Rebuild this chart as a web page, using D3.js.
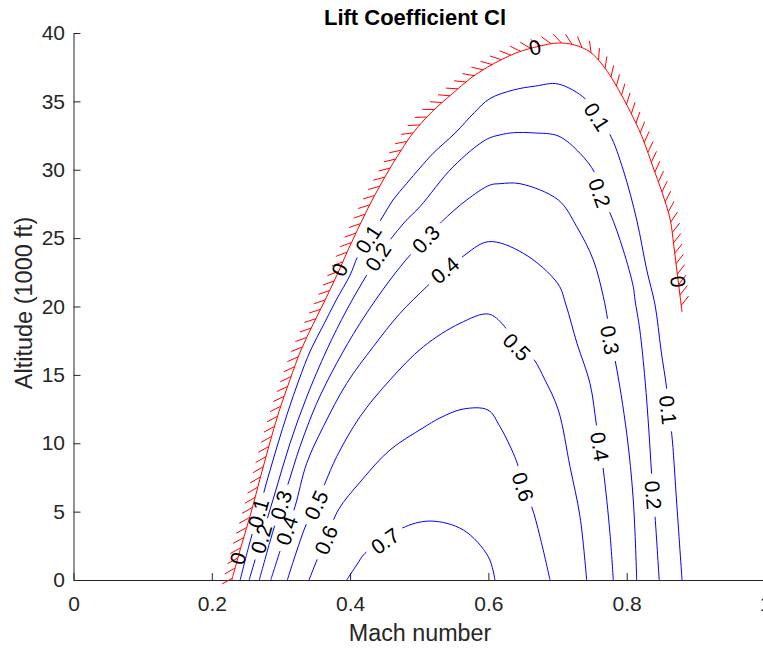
<!DOCTYPE html>
<html><head><meta charset="utf-8">
<script src="https://cdn.jsdelivr.net/npm/d3@7"></script>
<style>body{margin:0;background:#fff} svg{display:block}</style>
</head><body>
<svg id="c" width="763" height="648"></svg>
<script>
// ---------- data ----------
const machTicks = [0, 0.2, 0.4, 0.6, 0.8, 1];
const machTickLabels = ["0", "0.2", "0.4", "0.6", "0.8", "1"];
const altTicks = [0, 5, 10, 15, 20, 25, 30, 35, 40];
const altTickLabels = ["0", "5", "10", "15", "20", "25", "30", "35", "40"];
const levels = [0, 0.1, 0.2, 0.3, 0.4, 0.5, 0.6, 0.7];
const levelLabels = ["0", "0.1", "0.2", "0.3", "0.4", "0.5", "0.6", "0.7"];

// contour lines: [Mach, altitude (1000 ft)]
const cl0 = [[0.229,0],[0.243,2.56],[0.257,4.97],[0.270,7.46],[0.283,9.87],[0.297,12.29],[0.313,14.63],[0.329,16.82],[0.346,18.65],[0.364,20.48],[0.381,22.30],[0.397,24.13],[0.414,25.96],[0.432,27.79],[0.452,29.62],[0.474,31.44],[0.491,32.69],[0.518,34.22],[0.549,35.61],[0.573,36.64],[0.599,37.51],[0.640,38.54],[0.675,39.05],[0.701,39.27],[0.725,39.12],[0.747,38.61],[0.764,37.73],[0.780,36.56],[0.809,33.86],[0.824,32.18],[0.838,30.20],[0.851,28.37],[0.863,26.33],[0.868,24.50],[0.873,22.45],[0.877,20.84],[0.880,19.60]];
const cl1 = [[0.241,0],[0.254,2.56],[0.2675,4.97],[0.281,7.46],[0.295,9.87],[0.310,12.29],[0.326,14.63],[0.343,16.82],[0.3615,18.65],[0.380,20.48],[0.400,22.30],[0.412,23.77],[0.429,25.16],[0.446,26.47],[0.462,27.79],[0.482,29.01],[0.501,30.13],[0.520,31.20],[0.552,32.69],[0.580,34.20],[0.602,35.20],[0.636,35.83],[0.668,36.12],[0.701,36.27],[0.742,35.10],[0.757,33.88],[0.776,32.54],[0.795,29.98],[0.8145,26.33],[0.829,22.67],[0.841,20.11],[0.8496,16.82],[0.858,13.90],[0.860,12.43],[0.865,10.73],[0.872,5.85],[0.880,0]];
const cl2 = [[0.254,0],[0.271,2.93],[0.2914,6.36],[0.3131,10.00],[0.3372,13.38],[0.3662,16.82],[0.395,19.74],[0.424,22.30],[0.440,23.62],[0.4577,24.86],[0.479,26.18],[0.501,27.30],[0.549,30.22],[0.5975,32.23],[0.617,32.55],[0.636,32.71],[0.667,32.69],[0.701,32.47],[0.7325,31.20],[0.754,29.74],[0.761,28.28],[0.776,26.82],[0.795,24.13],[0.8095,21.45],[0.812,20.48],[0.819,18.28],[0.8265,14.63],[0.832,10.97],[0.836,7.80],[0.841,4.63],[0.847,0]];
const cl3 = [[0.2687,0],[0.284,2.78],[0.300,5.48],[0.3106,7.07],[0.3275,9.75],[0.3517,12.92],[0.3806,15.85],[0.4143,18.77],[0.4577,21.94],[0.4891,23.89],[0.511,25.01],[0.5325,26.20],[0.5686,27.79],[0.6023,28.88],[0.6168,28.98],[0.6457,28.98],[0.7011,27.79],[0.7277,25.84],[0.7517,23.40],[0.7662,20.72],[0.7725,19.01],[0.7758,17.55],[0.7831,16.09],[0.800,10.73],[0.8095,5.85],[0.8145,0]];
const cl4 = [[0.2852,0],[0.3087,3.66],[0.3203,5.36],[0.3372,8.53],[0.3612,11.21],[0.3951,14.38],[0.4335,17.06],[0.4722,19.50],[0.5108,21.45],[0.5372,22.67],[0.5614,23.60],[0.5999,24.74],[0.6505,23.89],[0.7007,21.65],[0.7122,20.11],[0.7281,17.31],[0.7469,14.38],[0.7566,11.21],[0.7662,8.04],[0.7758,3.41],[0.7806,0]];
const cl5 = [[0.3092,0],[0.3218,1.97],[0.3372,4.15],[0.3507,5.48],[0.3637,7.07],[0.3806,9.02],[0.4143,11.94],[0.4577,14.63],[0.5059,17.06],[0.5589,18.77],[0.5999,19.45],[0.6215,18.65],[0.6414,17.04],[0.6626,16.33],[0.6818,14.63],[0.7011,12.43],[0.718,8.29],[0.7325,4.63],[0.7421,0]];
const cl6 = [[0.3406,0],[0.354,1.70],[0.3651,2.93],[0.3829,5.12],[0.4158,7.24],[0.4577,9.51],[0.5054,11.12],[0.530,11.85],[0.5633,12.50],[0.5994,12.43],[0.6168,11.21],[0.636,9.27],[0.6432,8.29],[0.650,6.80],[0.6626,5.36],[0.6746,3.17],[0.6891,0]];
const cl7 = [[0.3951,0],[0.4095,1.10],[0.4215,1.95],[0.4505,2.85],[0.4746,3.78],[0.5155,4.31],[0.5637,3.66],[0.5999,1.70],[0.6095,0]];

// label anchor points on each contour: [Mach, altitude]
const lab0 = [[0.2364,1.61],[0.3796,22.82],[0.6674,38.98],[0.8713,21.79]];
const lab1 = [[0.2654,4.90],[0.4288,24.86],[0.7571,33.86],[0.8601,12.43]];
const lab2 = [[0.2683,3.07],[0.4432,23.55],[0.7614,28.30],[0.8366,6.22]];
const lab3 = [[0.3001,5.48],[0.5112,24.86],[0.7758,17.55]];
const lab4 = [[0.3058,3.66],[0.5372,22.67],[0.7585,9.73]];
const lab5 = [[0.3507,5.48],[0.6414,17.04]];
const lab6 = [[0.3651,2.93],[0.6500,6.80]];
const lab7 = [[0.4505,2.85]];

const contourLines = [cl0, cl1, cl2, cl3, cl4, cl5, cl6, cl7];
const contourLabels = [lab0, lab1, lab2, lab3, lab4, lab5, lab6, lab7];

// ---------- drawing ----------
const FONT = "'Liberation Sans', Arial, Helvetica, sans-serif";
const AX = "#262626";
const svg = d3.select("#c");
const x = d3.scaleLinear().domain([0, 1]).range([73.5, 765]);
const y = d3.scaleLinear().domain([0, 40]).range([580, 33]);

// axes
const gx = svg.append("g").attr("transform", "translate(0,580)")
  .call(d3.axisBottom(x).tickValues(machTicks).tickFormat((d, i) => machTickLabels[i])
    .tickSizeInner(-7).tickSizeOuter(0).tickPadding(16));
const gy = svg.append("g").attr("transform", "translate(73.5,0)")
  .call(d3.axisLeft(y).tickValues(altTicks).tickFormat((d, i) => altTickLabels[i])
    .tickSizeInner(-7).tickSizeOuter(0).tickPadding(8.5));
[gx, gy].forEach(g => {
  g.attr("font-size", 21).attr("font-family", FONT);
  g.select(".domain").attr("stroke", AX).attr("stroke-width", 1);
  g.selectAll(".tick line").attr("stroke", AX).attr("stroke-width", 1);
  g.selectAll(".tick text").attr("fill", AX);
});

// axis titles
svg.append("text").attr("x", 420).attr("y", 641).attr("text-anchor", "middle")
  .attr("font-family", FONT).attr("font-size", 23.3).attr("fill", AX).text("Mach number");
svg.append("text").attr("transform", "translate(32,303) rotate(-90)").attr("text-anchor", "middle")
  .attr("font-family", FONT).attr("font-size", 23.5).attr("fill", AX).text("Altitude (1000 ft)");
svg.append("text").attr("x", 415).attr("y", 25).attr("text-anchor", "middle")
  .attr("font-family", FONT).attr("font-size", 22).attr("font-weight", "bold").attr("fill", "#000")
  .text("Lift Coefficient Cl");

const line = d3.line().x(d => x(d[0])).y(d => y(d[1])).curve(d3.curveCatmullRom.alpha(0.5));
const gLines = svg.append("g");
const gHatch = svg.append("g");
const gLabels = svg.append("g");

function nearestLength(node, px, py) {
  const T = node.getTotalLength();
  let best = 0, bd = Infinity;
  for (let s = 0; s <= T; s += 0.5) {
    const p = node.getPointAtLength(s);
    const d = (p.x - px) ** 2 + (p.y - py) ** 2;
    if (d < bd) { bd = d; best = s; }
  }
  return best;
}

contourLines.forEach((pts, li) => {
  const isZero = levels[li] === 0;
  const path = gLines.append("path").datum(pts)
    .attr("d", line).attr("fill", "none")
    .attr("stroke", isZero ? "#ff0000" : "#0000ff")
    .attr("stroke-width", 1);
  const node = path.node();
  const T = node.getTotalLength();

  // labels
  const gaps = [];
  contourLabels[li].forEach(lp => {
    const s = nearestLength(node, x(lp[0]), y(lp[1]));
    const p = node.getPointAtLength(s);
    const a = node.getPointAtLength(Math.max(0, s - 4));
    const b = node.getPointAtLength(Math.min(T, s + 4));
    let ang = Math.atan2(b.y - a.y, b.x - a.x) * 180 / Math.PI;
    if (ang > 90) ang -= 180;
    if (ang < -90) ang += 180;
    const t = gLabels.append("text")
      .attr("transform", `translate(${p.x},${p.y}) rotate(${ang})`)
      .attr("text-anchor", "middle").attr("dy", "0.36em")
      .attr("font-family", FONT).attr("font-size", 21).attr("fill", "#000")
      .text(levelLabels[li]);
    const w = t.node().getComputedTextLength();
    gaps.push([s, w + 14]);
  });

  if (!isZero) {
    gaps.sort((p, q) => p[0] - q[0]);
    const arr = [];
    let pos = 0;
    gaps.forEach(([s, g]) => {
      const st = Math.max(pos, s - g / 2);
      arr.push(st - pos, g);
      pos = st + g;
    });
    arr.push(Math.max(0, T - pos) + 1, 0);
    path.attr("stroke-dasharray", arr.join(","));
  } else {
    // hatch marks on the outer side of the zero contour
    const step = 10.5, len = 12;
    for (let s = 2; s <= T; s += step) {
      const p = node.getPointAtLength(s);
      const a = node.getPointAtLength(Math.max(0, s - 1.5));
      const b = node.getPointAtLength(Math.min(T, s + 1.5));
      const ang = Math.atan2(b.y - a.y, b.x - a.x) - 135 * Math.PI / 180;
      gHatch.append("line")
        .attr("x1", p.x).attr("y1", p.y)
        .attr("x2", p.x + len * Math.cos(ang)).attr("y2", p.y + len * Math.sin(ang))
        .attr("stroke", "#ff0000").attr("stroke-width", 1);
    }
  }
});
</script>
</body></html>
